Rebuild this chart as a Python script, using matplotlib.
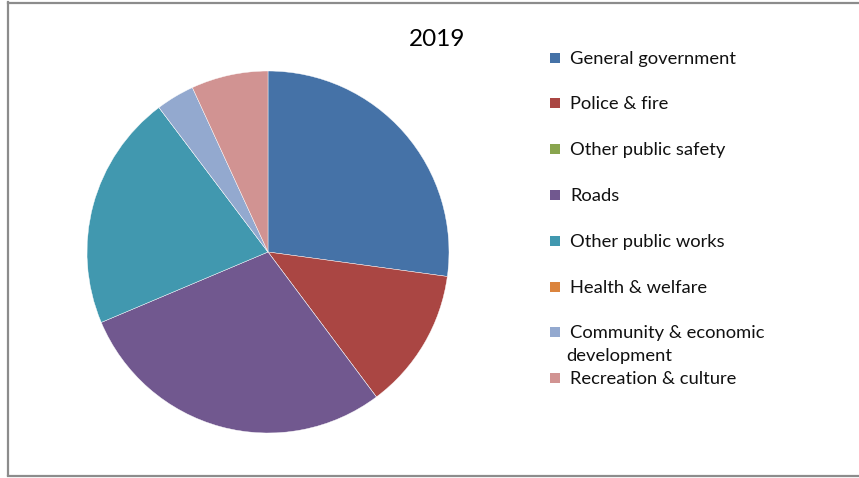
import matplotlib.pyplot as plt
from matplotlib.patches import Rectangle

# data (percent of total)
labels = ['General government', 'Police & fire', 'Other public safety', 'Roads',
          'Other public works', 'Health & welfare', 'Community & economic\ndevelopment',
          'Recreation & culture']
values = [27.16, 12.62, 0, 28.86, 21.07, 0, 3.43, 6.86]
colors = ['#4572A7', '#AA4643', '#89A54E', '#71588F', '#4198AF', '#DB843D', '#93A9CF', '#D19392']
title = '2019'

plt.rcParams['font.family'] = ['Lato', 'DejaVu Sans']

fig = plt.figure(figsize=(8.59, 4.78), dpi=100)

# outer chart frame (no right border in the reference)
for xs, ys in [([8/859, 8/859], [3/478, 476/478]), ([8/859, 1], [475/478, 475/478]),
               ([8/859, 1], [2/478, 2/478])]:
    fig.add_artist(plt.Line2D(xs, ys, color='#8c8c8c', lw=1.6))

ax = fig.add_axes([87/859, 45/478, 362/859, 362/478])
ax.pie(values, colors=colors, startangle=90, counterclock=False,
       wedgeprops=dict(edgecolor='white', linewidth=0.3))
ax.set_xlim(-1, 1)
ax.set_ylim(-1, 1)
ax.set_aspect('equal')
ax.axis('off')

fig.text(437/859, 1 - 40/478, title, ha='center', va='center', fontsize=17.5)

# legend drawn by hand so the wrapped entry keeps the even row spacing
row_y = [58, 103, 149, 195, 241, 287, 332, 378]
for lab, col, y in zip(labels, colors, row_y):
    fig.add_artist(Rectangle((550/859, 1 - (y + 5)/478), 10/859, 10/478,
                             transform=fig.transFigure, facecolor=col, edgecolor='none'))
    lines = lab.split('\n')
    fig.text(570/859, 1 - (y + 1)/478, lines[0], ha='left', va='center', fontsize=13.2, color='#111111')
    if len(lines) > 1:
        fig.text(566/859, 1 - (y + 24)/478, lines[1], ha='left', va='center',
                 fontsize=13.2, color='#111111')

fig.savefig('out.png', dpi=100)
